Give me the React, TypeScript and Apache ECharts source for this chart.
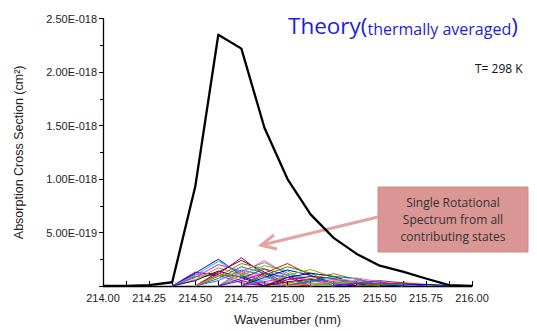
import React, { useEffect, useRef } from "react";
import * as echarts from "echarts";

// Wavenumber grid (nm) shared by all spectra
const wavenumbers = [
  214.0, 214.125, 214.25, 214.375, 214.5, 214.625, 214.75, 214.875, 215.0,
  215.125, 215.25, 215.375, 215.5, 215.625, 215.75, 215.875, 216.0,
];

// Thermally averaged cross section, in units of 1e-18 cm^2
const thermalAverage = [
  0, 0.002, 0.008, 0.035, 0.93, 2.35, 2.22, 1.48, 1.0, 0.67, 0.45, 0.3,
  0.19, 0.135, 0.07, 0.008, 0,
];

// Individual rotational-state spectra: [first grid index, values in 1e-18 cm^2]
const rotationalStates: [number, number[]][] = [
  [3, [0, 0.13, 0.1, 0.03, 0]],
  [3, [0, 0.11, 0.12, 0.05, 0]],
  [3, [0, 0.09, 0.1, 0.09, 0.02, 0]],
  [3, [0, 0.12, 0.25, 0.1, 0]],
  [3, [0, 0.1, 0.23, 0.12, 0.02, 0]],
  [3, [0, 0.08, 0.2, 0.14, 0.03, 0]],
  [3, [0, 0.06, 0.17, 0.11, 0]],
  [3, [0, 0.05, 0.14, 0.08, 0]],
  [4, [0, 0.11, 0.265, 0.1, 0]],
  [4, [0, 0.13, 0.24, 0.13, 0.02, 0]],
  [4, [0, 0.09, 0.21, 0.16, 0.04, 0]],
  [4, [0, 0.07, 0.18, 0.12, 0]],
  [4, [0, 0.05, 0.15, 0.1, 0]],
  [4, [0, 0.1, 0.12, 0.09, 0]],
  [5, [0, 0.12, 0.24, 0.1, 0]],
  [5, [0, 0.14, 0.22, 0.12, 0.02, 0]],
  [5, [0, 0.1, 0.19, 0.14, 0.03, 0]],
  [5, [0, 0.07, 0.16, 0.1, 0]],
  [5, [0, 0.05, 0.12, 0.08, 0]],
  [6, [0, 0.12, 0.21, 0.1, 0]],
  [6, [0, 0.1, 0.18, 0.12, 0.02, 0]],
  [6, [0, 0.08, 0.15, 0.1, 0.02, 0]],
  [6, [0, 0.06, 0.11, 0.07, 0]],
  [6, [0, 0.04, 0.08, 0.06, 0]],
  [7, [0, 0.1, 0.155, 0.08, 0]],
  [7, [0, 0.08, 0.12, 0.09, 0.02, 0]],
  [7, [0, 0.06, 0.09, 0.07, 0]],
  [7, [0, 0.04, 0.06, 0.04, 0]],
  [8, [0, 0.07, 0.115, 0.06, 0]],
  [8, [0, 0.05, 0.09, 0.07, 0.01, 0]],
  [8, [0, 0.04, 0.06, 0.04, 0]],
  [8, [0, 0.02, 0.04, 0.03, 0]],
  [9, [0, 0.05, 0.075, 0.04, 0]],
  [9, [0, 0.03, 0.05, 0.04, 0]],
  [9, [0, 0.02, 0.03, 0.02, 0]],
  [10, [0, 0.03, 0.05, 0.03, 0]],
  [10, [0, 0.02, 0.03, 0.02, 0]],
  [11, [0, 0.02, 0.03, 0.015, 0]],
  [11, [0, 0.01, 0.02, 0.01, 0]],
  [12, [0, 0.008, 0.015, 0.005, 0]],
];

const stateColors = [
  "#7f00ff", "#ff0000", "#00a000", "#0000ff", "#00c8c8", "#ff00ff",
  "#a0a000", "#000080", "#800080", "#800000", "#808000", "#008080",
  "#4169e1", "#ff8000", "#ff66cc", "#808080", "#33cc33", "#663399",
];

const yTicks = [0, 0.5, 1.0, 1.5, 2.0, 2.5];

function formatCrossSection(v: number): string {
  if (v === 0) return "";
  if (v >= 1) return v.toFixed(2) + "E-018";
  return (v * 10).toFixed(2) + "E-019";
}

export default function App() {
  const ref = useRef<HTMLDivElement>(null);

  useEffect(() => {
    document.body.style.margin = "0";
    if (!ref.current) return;
    const chart = echarts.init(ref.current, null, { renderer: "svg" });

    const stateSeries = rotationalStates.map(([start, vals], i) => ({
      type: "line",
      data: vals.map((v, k) => [wavenumbers[start + k], v]),
      symbol: "none",
      silent: true,
      z: 2,
      lineStyle: { color: stateColors[i % stateColors.length], width: 1 },
    }));

    const axisFont = { fontFamily: "Liberation Sans", color: "#222", fontSize: 11 };

    chart.setOption({
      animation: false,
      grid: { left: 103, right: 65, top: 18.7, bottom: 40.3 },
      xAxis: {
        type: "value",
        min: 214,
        max: 216,
        interval: 0.25,
        name: "Wavenumber (nm)",
        nameLocation: "middle",
        nameGap: 27,
        nameTextStyle: { ...axisFont, fontSize: 13 },
        axisLine: { show: true, lineStyle: { color: "#000", width: 1.3 } },
        axisTick: { show: true, inside: true, length: 5, lineStyle: { color: "#000", width: 1 } },
        minorTick: { show: true, splitNumber: 2, length: 5, lineStyle: { color: "#000", width: 1 } },
        splitLine: { show: false },
        axisLabel: { ...axisFont, margin: 6, formatter: (v: number) => v.toFixed(2) },
      },
      yAxis: {
        type: "value",
        min: yTicks[0],
        max: yTicks[yTicks.length - 1],
        interval: 0.5,
        name: "Absorption Cross Section (cm²)",
        nameLocation: "middle",
        nameGap: 78,
        nameTextStyle: { ...axisFont, fontSize: 12.5 },
        axisLine: { show: true, lineStyle: { color: "#000", width: 1.3 } },
        axisTick: { show: true, inside: false, length: 4, lineStyle: { color: "#000", width: 1 } },
        minorTick: { show: true, splitNumber: 2, length: 3, lineStyle: { color: "#000", width: 1 } },
        splitLine: { show: false },
        axisLabel: { ...axisFont, margin: 6, formatter: formatCrossSection },
      },
      series: [
        ...stateSeries,
        {
          type: "line",
          data: wavenumbers.map((w, i) => [w, thermalAverage[i]]),
          symbol: "none",
          z: 3,
          lineStyle: { color: "#000", width: 2.3, join: "round" },
        },
      ],
      graphic: [
        {
          type: "text",
          left: 288,
          top: 14,
          style: {
            text: "{big|Theory(}{small|thermally averaged}{big|)}",
            rich: {
              big: { fontFamily: "Open Sans", fontSize: 22.5, fill: "#1c1ce0", verticalAlign: "bottom" },
              small: { fontFamily: "Open Sans", fontSize: 16, fill: "#1c1ce0", verticalAlign: "bottom" },
            },
          },
        },
        {
          type: "text",
          left: 475,
          top: 62,
          style: { text: "T= 298 K", fontFamily: "Open Sans", fontSize: 12, fill: "#111" },
        },
        {
          type: "rect",
          shape: { x: 378, y: 187, width: 150, height: 65 },
          style: { fill: "#d99694", stroke: "#c98a88", lineWidth: 1 },
        },
        {
          type: "text",
          x: 453,
          y: 219.5,
          style: {
            text: "Single Rotational\nSpectrum from all\ncontributing states",
            fontFamily: "Open Sans",
            fontSize: 12,
            lineHeight: 17,
            fill: "#333",
            align: "center",
            verticalAlign: "middle",
          },
        },
        {
          type: "line",
          shape: { x1: 378, y1: 217, x2: 262, y2: 245 },
          style: { stroke: "#e3a3a2", lineWidth: 3 },
        },
        {
          type: "polyline",
          shape: { points: [[274, 235], [261, 245.3], [277, 249]] },
          style: { stroke: "#e3a3a2", lineWidth: 3, fill: "none" },
        },
      ],
    });

    return () => chart.dispose();
  }, []);

  return <div ref={ref} style={{ width: 537, height: 331 }} />;
}
